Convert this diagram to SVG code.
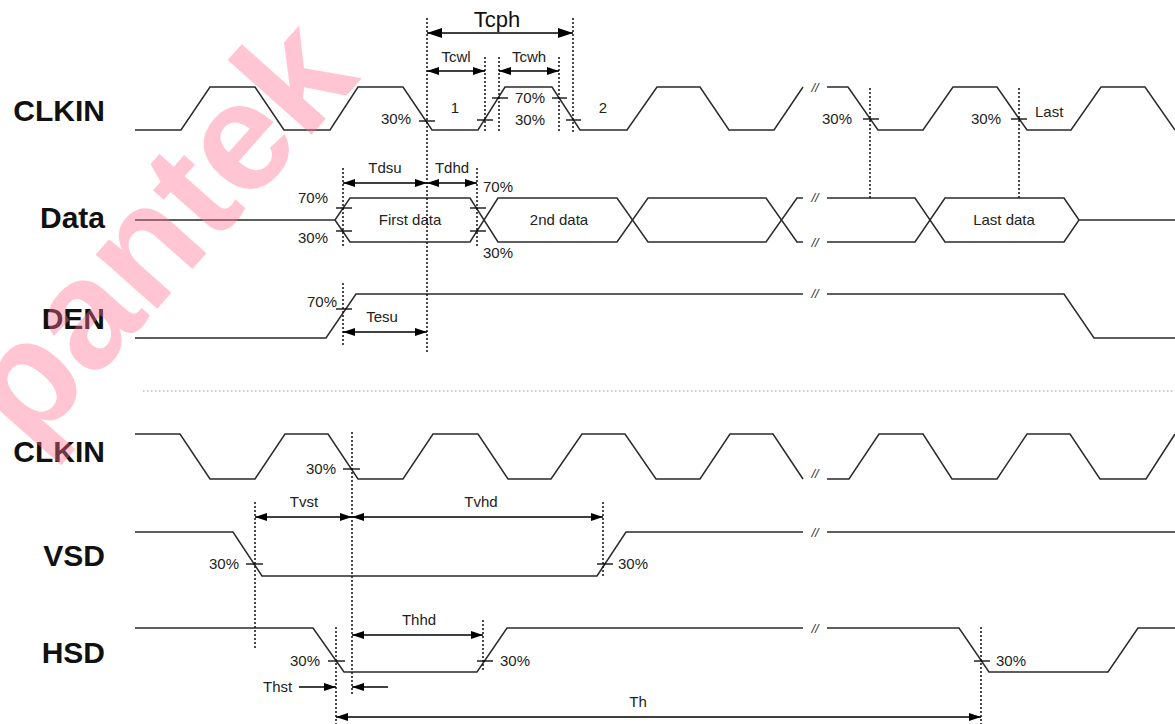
<svg xmlns="http://www.w3.org/2000/svg" width="1175" height="724" viewBox="0 0 1175 724">
<defs>
<marker id="ah" viewBox="0 0 12 8" refX="12" refY="4" markerWidth="12" markerHeight="8" markerUnits="userSpaceOnUse" orient="auto-start-reverse"><path d="M0,0 L12,4 L0,8 z" fill="#000"/></marker>
<marker id="ahb" viewBox="0 0 15 10" refX="15" refY="5" markerWidth="15" markerHeight="10" markerUnits="userSpaceOnUse" orient="auto-start-reverse"><path d="M0,0 L15,5 L0,10 z" fill="#000"/></marker>
<style>
.sig{fill:none;stroke:#2a2a2a;stroke-width:1.5;stroke-linejoin:miter}
.tk{stroke:#000;stroke-width:1.3}
.dot{stroke:#111;stroke-width:1.5;stroke-dasharray:2 2;fill:none}
.arr{stroke:#000;stroke-width:1.5;fill:none;marker-start:url(#ah);marker-end:url(#ah)}
.lbl{font-family:"Liberation Sans",Arial,sans-serif;font-weight:bold;font-size:30px;fill:#111;text-anchor:end}
.t{font-family:"Liberation Sans",Arial,sans-serif;font-size:15px;fill:#222}
.m{text-anchor:middle}
.br{font-family:"Liberation Sans",Arial,sans-serif;font-size:13px;font-style:italic;fill:#333;text-anchor:middle}
</style>
</defs>
<rect width="1175" height="724" fill="#fff"/>

<g id="separator"><line x1="143" y1="391" x2="1175" y2="391" stroke="#999" stroke-width="1.2" stroke-dasharray="1.5 2.5"/></g>

<g id="clkin-top">
<text class="lbl" x="105" y="121">CLKIN</text>
<path class="sig" d="M135,130 L181,130 L210,87 L255,87 L284,130 L330,130 L358,87 L403,87 L432,130 L478,130 L505,87 L552,87 L580,130 L627,130 L657,87 L700,87 L729,130 L774,130 L803,87"/>
<path class="sig" d="M827,87 L848,87 L878,130 L923,130 L953,87 L997,87 L1027,130 L1071,130 L1101,87 L1145,87 L1175,130"/>
<text class="br" x="815" y="92">//</text>
<line class="tk" x1="419" y1="121" x2="435" y2="121"/>
<line class="tk" x1="477" y1="120" x2="493" y2="120"/>
<line class="tk" x1="492" y1="98" x2="508" y2="98"/>
<line class="tk" x1="552" y1="98" x2="567" y2="98"/>
<line class="tk" x1="566" y1="120" x2="581" y2="120"/>
<line class="tk" x1="863" y1="119" x2="879" y2="119"/>
<line class="tk" x1="1011" y1="119" x2="1027" y2="119"/>
<text class="t" x="381" y="124">30%</text>
<text class="t m" x="455" y="113">1</text>
<text class="t" x="515" y="103">70%</text>
<text class="t" x="515" y="125">30%</text>
<text class="t m" x="603" y="113">2</text>
<text class="t" x="822" y="124">30%</text>
<text class="t" x="971" y="124">30%</text>
<text class="t" x="1035" y="117">Last</text>
</g>

<g id="data">
<text class="lbl" x="105" y="228">Data</text>
<path class="sig" d="M135,220 L335,220 L350,198 L470,198 L498,242 L617,242 L648,198 L766,198 L797,242 L803,242"/>
<path class="sig" d="M335,220 L350,242 L470,242 L498,198 L617,198 L648,242 L766,242 L797,198 L803,198"/>
<path class="sig" d="M827,198 L915,198 L945,242 L1064,242 L1079,220 L1175,220"/>
<path class="sig" d="M827,242 L915,242 L945,198 L1064,198 L1079,220"/>
<text class="br" x="815" y="202">//</text>
<text class="br" x="815" y="247">//</text>
<line class="tk" x1="336" y1="208" x2="352" y2="208"/>
<line class="tk" x1="336" y1="231" x2="352" y2="231"/>
<line class="tk" x1="470" y1="208" x2="486" y2="208"/>
<line class="tk" x1="470" y1="231" x2="486" y2="231"/>
<text class="t" x="298" y="203">70%</text>
<text class="t" x="298" y="243">30%</text>
<text class="t" x="483" y="192">70%</text>
<text class="t" x="483" y="258">30%</text>
<text class="t m" x="410" y="225">First data</text>
<text class="t m" x="559" y="225">2nd data</text>
<text class="t m" x="1004" y="225">Last data</text>
</g>

<g id="den">
<text class="lbl" x="105" y="329">DEN</text>
<path class="sig" d="M135,338 L326,338 L356,294 L803,294"/>
<path class="sig" d="M827,294 L1064,294 L1094,338 L1175,338"/>
<text class="br" x="815" y="298">//</text>
<line class="tk" x1="336" y1="309" x2="352" y2="309"/>
<text class="t" x="307" y="307">70%</text>
</g>

<g id="clkin-bottom">
<text class="lbl" x="105" y="462">CLKIN</text>
<path class="sig" d="M135,434 L180,434 L210,479 L255,479 L285,434 L328,434 L358,479 L403,479 L433,434 L478,434 L508,479 L551,479 L582,434 L625,434 L656,479 L700,479 L730,434 L773,434 L803,479"/>
<path class="sig" d="M827,479 L849,479 L879,434 L923,434 L952,479 L997,479 L1027,434 L1070,434 L1100,479 L1146,479 L1175,434"/>
<text class="br" x="815" y="478">//</text>
<line class="tk" x1="343" y1="469" x2="360" y2="469"/>
<text class="t" x="306" y="474">30%</text>
</g>

<g id="vsd">
<text class="lbl" x="105" y="566">VSD</text>
<path class="sig" d="M135,532 L233,532 L262,576 L597,576 L626,532 L803,532"/>
<path class="sig" d="M827,532 L1175,532"/>
<text class="br" x="815" y="537">//</text>
<line class="tk" x1="246" y1="564" x2="263" y2="564"/>
<line class="tk" x1="597" y1="564" x2="613" y2="564"/>
<text class="t" x="209" y="569">30%</text>
<text class="t" x="618" y="569">30%</text>
</g>

<g id="hsd">
<text class="lbl" x="105" y="663">HSD</text>
<path class="sig" d="M135,628 L313,628 L344,672 L477,672 L507,628 L803,628"/>
<path class="sig" d="M827,628 L959,628 L989,672 L1108,672 L1138,628 L1175,628"/>
<text class="br" x="815" y="633">//</text>
<line class="tk" x1="328" y1="661" x2="345" y2="661"/>
<line class="tk" x1="477" y1="661" x2="493" y2="661"/>
<line class="tk" x1="974" y1="661" x2="990" y2="661"/>
<text class="t" x="290" y="666">30%</text>
<text class="t" x="500" y="666">30%</text>
<text class="t" x="996" y="666">30%</text>
</g>

<g id="connectors">
<line class="dot" x1="427" y1="18" x2="427" y2="353"/>
<line class="dot" x1="573" y1="18" x2="573" y2="132"/>
<line class="dot" x1="485" y1="57" x2="485" y2="132"/>
<line class="dot" x1="499" y1="57" x2="499" y2="132"/>
<line class="dot" x1="559" y1="57" x2="559" y2="132"/>
<line class="dot" x1="870" y1="88" x2="870" y2="198"/>
<line class="dot" x1="1019" y1="88" x2="1019" y2="198"/>
<line class="dot" x1="343" y1="168" x2="343" y2="246"/>
<line class="dot" x1="343" y1="283" x2="343" y2="347"/>
<line class="dot" x1="477" y1="168" x2="477" y2="246"/>
<line class="dot" x1="352" y1="432" x2="352" y2="695"/>
<line class="dot" x1="255" y1="502" x2="255" y2="650"/>
<line class="dot" x1="603" y1="502" x2="603" y2="577"/>
<line class="dot" x1="483" y1="620" x2="483" y2="672"/>
<line class="dot" x1="336" y1="627" x2="336" y2="724"/>
<line class="dot" x1="981" y1="627" x2="981" y2="724" stroke="#888"/>

<line x1="427" y1="33" x2="573" y2="33" stroke="#000" stroke-width="1.5" marker-start="url(#ahb)" marker-end="url(#ahb)"/>
<text x="497" y="27" font-family="Liberation Sans, Arial, sans-serif" font-size="22" fill="#111" text-anchor="middle">Tcph</text>
<line class="arr" x1="427" y1="71" x2="485" y2="71"/>
<text class="t m" x="456" y="62">Tcwl</text>
<line class="arr" x1="499" y1="71" x2="559" y2="71"/>
<text class="t m" x="529" y="62">Tcwh</text>
<line class="arr" x1="343" y1="183" x2="427" y2="183"/>
<text class="t m" x="385" y="173">Tdsu</text>
<line class="arr" x1="427" y1="183" x2="477" y2="183"/>
<text class="t m" x="452" y="173">Tdhd</text>
<line class="arr" x1="343" y1="332" x2="427" y2="332"/>
<text class="t m" x="382" y="322">Tesu</text>
<line class="arr" x1="255" y1="517" x2="352" y2="517"/>
<text class="t m" x="304" y="507">Tvst</text>
<line class="arr" x1="352" y1="517" x2="603" y2="517"/>
<text class="t m" x="481" y="507">Tvhd</text>
<line class="arr" x1="352" y1="635" x2="483" y2="635"/>
<text class="t m" x="419" y="625">Thhd</text>
<line x1="299" y1="687" x2="336" y2="687" stroke="#000" stroke-width="1.5" marker-end="url(#ah)"/>
<line x1="388" y1="687" x2="352" y2="687" stroke="#000" stroke-width="1.5" marker-end="url(#ah)"/>
<text class="t" x="263" y="692">Thst</text>
<line class="arr" x1="336" y1="717" x2="981" y2="717"/>
<text class="t m" x="638" y="707">Th</text>
</g>

<g id="watermark" opacity="0.4">
<text transform="translate(30,452) rotate(-48.4)" font-family="Liberation Sans, Arial, sans-serif" font-weight="bold" font-size="155" fill="#ff6f91">pantek</text>
</g>
</svg>
